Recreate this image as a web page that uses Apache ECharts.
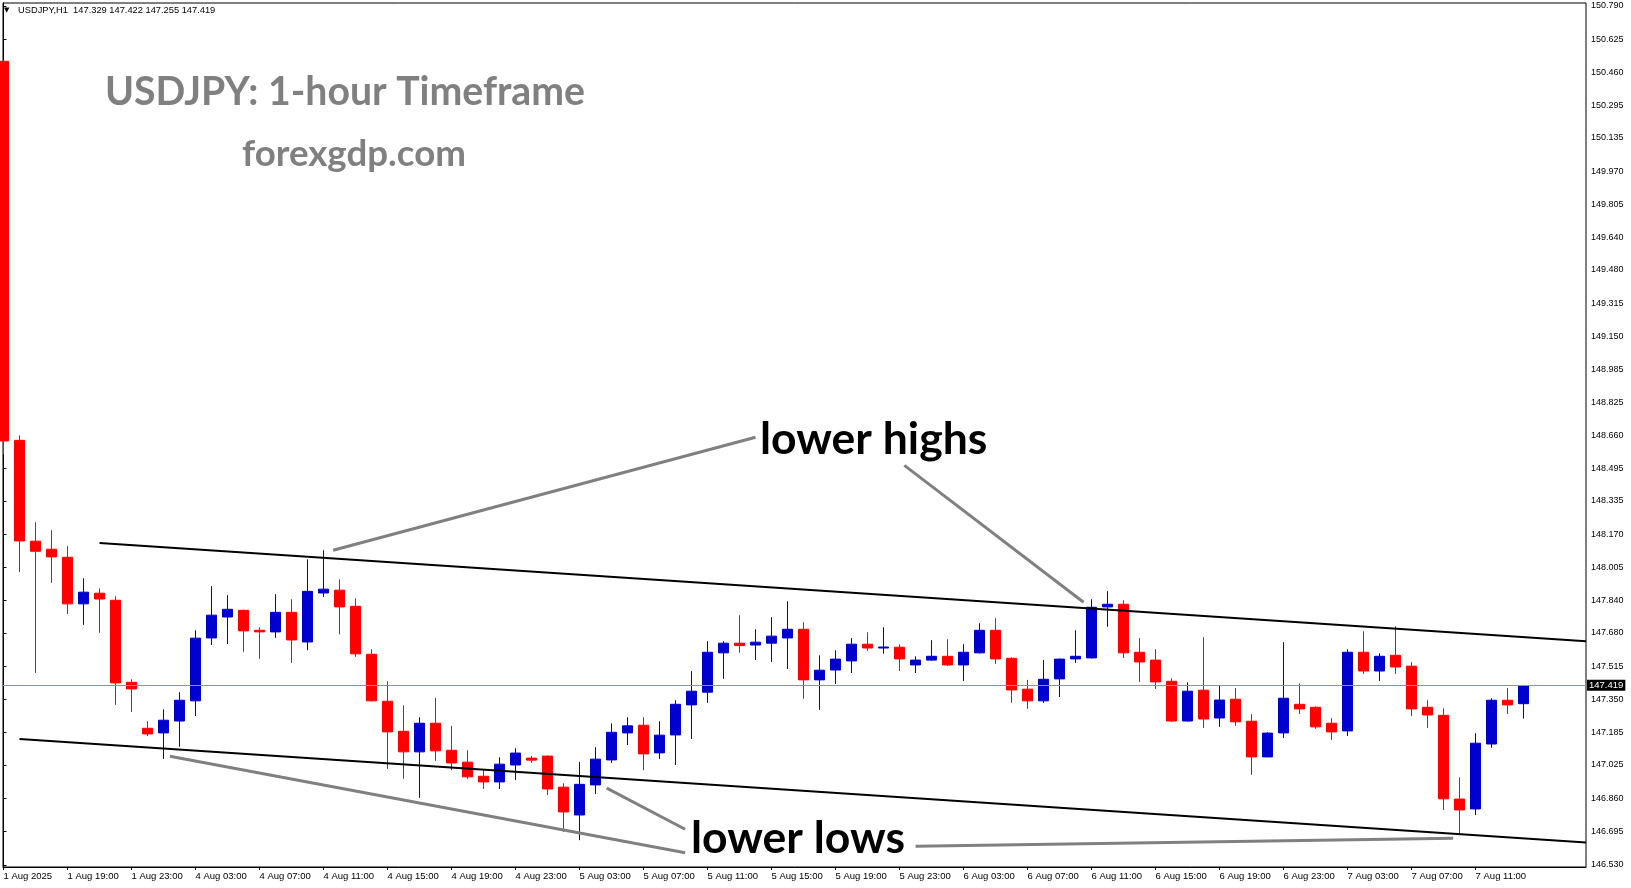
<!DOCTYPE html>
<html>
<head>
<meta charset="utf-8">
<script src="https://cdn.jsdelivr.net/npm/echarts@6/dist/echarts.min.js"></script>
<style>
html,body{margin:0;padding:0;background:#fff;}
#chart{width:1631px;height:888px;}
</style>
</head>
<body>
<div id="chart"></div>
<script>
// ---- bar times (H1) ----
const times = [
 '1 Aug 15:00','1 Aug 16:00','1 Aug 17:00','1 Aug 18:00','1 Aug 19:00','1 Aug 20:00','1 Aug 21:00','1 Aug 22:00','1 Aug 23:00',
 '4 Aug 00:00','4 Aug 01:00','4 Aug 02:00','4 Aug 03:00','4 Aug 04:00','4 Aug 05:00','4 Aug 06:00','4 Aug 07:00','4 Aug 08:00',
 '4 Aug 09:00','4 Aug 10:00','4 Aug 11:00','4 Aug 12:00','4 Aug 13:00','4 Aug 14:00','4 Aug 15:00','4 Aug 16:00','4 Aug 17:00',
 '4 Aug 18:00','4 Aug 19:00','4 Aug 20:00','4 Aug 21:00','4 Aug 22:00','4 Aug 23:00',
 '5 Aug 00:00','5 Aug 01:00','5 Aug 02:00','5 Aug 03:00','5 Aug 04:00','5 Aug 05:00','5 Aug 06:00','5 Aug 07:00','5 Aug 08:00',
 '5 Aug 09:00','5 Aug 10:00','5 Aug 11:00','5 Aug 12:00','5 Aug 13:00','5 Aug 14:00','5 Aug 15:00','5 Aug 16:00','5 Aug 17:00',
 '5 Aug 18:00','5 Aug 19:00','5 Aug 20:00','5 Aug 21:00','5 Aug 22:00','5 Aug 23:00',
 '6 Aug 00:00','6 Aug 01:00','6 Aug 02:00','6 Aug 03:00','6 Aug 04:00','6 Aug 05:00','6 Aug 06:00','6 Aug 07:00','6 Aug 08:00',
 '6 Aug 09:00','6 Aug 10:00','6 Aug 11:00','6 Aug 12:00','6 Aug 13:00','6 Aug 14:00','6 Aug 15:00','6 Aug 16:00','6 Aug 17:00',
 '6 Aug 18:00','6 Aug 19:00','6 Aug 20:00','6 Aug 21:00','6 Aug 22:00','6 Aug 23:00',
 '7 Aug 00:00','7 Aug 01:00','7 Aug 02:00','7 Aug 03:00','7 Aug 04:00','7 Aug 05:00','7 Aug 06:00','7 Aug 07:00','7 Aug 08:00',
 '7 Aug 09:00','7 Aug 10:00','7 Aug 11:00','7 Aug 12:00','7 Aug 13:00','7 Aug 14:00'
];

// ---- OHLC ----
const openP = [
 150.515,148.635,148.135,148.095,148.055,147.824,147.877,147.842,147.435,
 147.207,147.184,147.243,147.343,147.655,147.759,147.792,147.693,147.685,147.782,147.635,147.878,147.892,147.812,147.574,
 147.341,147.192,147.090,147.232,147.098,147.039,146.969,146.941,147.025,
 147.059,147.069,146.915,146.777,146.926,147.050,147.184,147.222,147.085,147.174,147.323,147.386,147.581,147.629,147.620,
 147.629,147.655,147.698,147.447,147.496,147.541,147.624,147.605,147.609,
 147.521,147.545,147.564,147.521,147.581,147.693,147.554,147.401,147.343,147.452,147.551,147.556,147.809,147.822,147.584,
 147.545,147.440,147.243,147.396,147.258,147.351,147.242,147.065,147.184,
 147.326,147.311,147.232,147.194,147.584,147.491,147.569,147.515,147.311,147.271,146.856,146.807,147.129,147.346,147.329
];
const highP = [
 150.520,148.660,148.229,148.189,148.110,147.951,147.901,147.862,147.450,
 147.242,147.301,147.386,147.693,147.912,147.867,147.795,147.708,147.872,147.847,148.045,148.090,147.946,147.852,147.599,
 147.440,147.321,147.262,147.358,147.219,147.098,146.999,147.063,147.108,
 147.069,147.072,146.934,147.040,147.113,147.231,147.262,147.262,147.242,147.346,147.490,147.639,147.639,147.768,147.698,
 147.758,147.837,147.733,147.569,147.594,147.654,147.683,147.708,147.624,
 147.564,147.644,147.649,147.624,147.728,147.753,147.559,147.447,147.545,147.553,147.693,147.847,147.887,147.842,147.654,
 147.599,147.455,147.435,147.659,147.421,147.406,147.277,147.187,147.634,
 147.430,147.316,147.257,147.599,147.688,147.579,147.713,147.535,147.346,147.306,146.964,147.183,147.356,147.406,147.422
];
const lowP = [
 148.565,147.982,147.481,147.928,147.774,147.720,147.680,147.323,147.288,
 147.169,147.055,147.115,147.268,147.620,147.625,147.586,147.551,147.655,147.531,147.594,147.858,147.673,147.561,147.340,
 147.005,146.956,146.862,147.045,146.999,146.956,146.906,146.906,146.951,
 147.035,146.876,146.693,146.652,146.881,147.035,147.124,146.999,147.055,147.025,147.154,147.333,147.452,147.581,147.546,
 147.536,147.501,147.353,147.298,147.427,147.481,147.591,147.576,147.491,
 147.481,147.541,147.516,147.442,147.578,147.526,147.333,147.303,147.333,147.362,147.531,147.553,147.710,147.556,147.437,
 147.402,147.239,147.240,147.209,147.214,147.219,146.976,147.063,147.159,
 147.278,147.204,147.149,147.169,147.477,147.442,147.477,147.268,147.209,146.802,146.683,146.777,147.110,147.278,147.255
];
const closeP = [
 148.632,148.136,148.085,148.057,147.824,147.882,147.848,147.432,147.402,
 147.179,147.247,147.346,147.654,147.768,147.797,147.690,147.685,147.782,147.645,147.886,147.897,147.809,147.576,147.343,
 147.189,147.090,147.232,147.095,147.035,146.966,146.941,147.029,147.084,
 147.049,146.906,146.792,146.929,147.054,147.187,147.219,147.080,147.173,147.326,147.391,147.584,147.629,147.617,147.634,
 147.664,147.698,147.447,147.495,147.550,147.624,147.605,147.610,147.551,
 147.545,147.564,147.521,147.584,147.693,147.551,147.397,147.343,147.450,147.550,147.564,147.807,147.822,147.581,147.536,
 147.437,147.243,147.391,147.253,147.347,147.239,147.065,147.183,147.356,
 147.303,147.214,147.189,147.584,147.491,147.564,147.511,147.303,147.273,146.857,146.802,147.133,147.346,147.323,147.419
];

// ---- axis ticks ----
const xTickIdx = [0,4,8,12,16,20,24,28,32,36,40,44,48,52,56,60,64,68,72,76,80,84,88,92];
const xTickLabels = ['1 Aug 2025','1 Aug 19:00','1 Aug 23:00','4 Aug 03:00','4 Aug 07:00','4 Aug 11:00','4 Aug 15:00',
 '4 Aug 19:00','4 Aug 23:00','5 Aug 03:00','5 Aug 07:00','5 Aug 11:00','5 Aug 15:00','5 Aug 19:00','5 Aug 23:00',
 '6 Aug 03:00','6 Aug 07:00','6 Aug 11:00','6 Aug 15:00','6 Aug 19:00','6 Aug 23:00','7 Aug 03:00','7 Aug 07:00','7 Aug 11:00'];
const yTickLabels = ['146.530','146.695','146.860','147.025','147.185','147.350','147.515','147.680','147.840',
 '148.005','148.170','148.335','148.495','148.660','148.825','148.985','149.150','149.315','149.480','149.640',
 '149.805','149.970','150.135','150.295','150.460','150.625','150.790'];

// ---- drawn trend lines: [bar index, price] ----
const upperChannel = [[6, 148.126], [98.9, 147.639]];
const lowerChannel = [[1, 147.154], [98.9, 146.641]];
const arrowHigh1 = [[20.6, 148.090], [47.0, 148.650]];
const arrowHigh2 = [[56.3, 148.511], [67.5, 147.832]];
const arrowLow1 = [[10.4, 147.068], [42.6, 146.590]];
const arrowLow2 = [[37.7, 146.910], [42.6, 146.706]];
const arrowLow3 = [[57.0, 146.622], [90.6, 146.662]];

const symbolName = 'USDJPY,H1';
const titleText = 'USDJPY: 1-hour Timeframe';
const siteText = 'forexgdp.com';

const candles = times.map((t, i) => [i, openP[i], closeP[i], lowP[i], highP[i]]);
const last = times.length - 1;
const fmt = v => Number(v).toFixed(3);

function seg(name, data, color, width) {
  return {
    name: name, type: 'line', data: data, symbol: 'none', silent: true, z: 5,
    lineStyle: { color: color, width: width }, animation: false
  };
}

const chart = echarts.init(document.getElementById('chart'));
chart.setOption({
  animation: false,
  backgroundColor: '#ffffff',
  grid: { left: 3, right: 45, top: 3, bottom: 21, show: true, borderColor: '#000', borderWidth: 1, backgroundColor: '#fff' },
  xAxis: {
    type: 'value', min: -0.03, max: 98.9,
    splitLine: { show: false },
    axisLine: { show: true, lineStyle: { color: '#000', width: 1 } },
    axisTick: { show: true, customValues: xTickIdx, length: 3, lineStyle: { color: '#000' } },
    axisLabel: {
      customValues: xTickIdx, align: 'left', margin: 4, fontSize: 9.5, color: '#000',
      fontFamily: '"Liberation Sans", Arial, sans-serif',
      formatter: v => xTickLabels[xTickIdx.indexOf(Math.round(v))] || ''
    }
  },
  yAxis: {
    type: 'value', position: 'right', min: 146.519, max: 150.804, scale: true,
    splitLine: { show: false },
    axisLine: { show: true, lineStyle: { color: '#000', width: 1 } },
    axisTick: { show: true, customValues: yTickLabels.map(Number), length: 3, lineStyle: { color: '#000' } },
    axisLabel: {
      customValues: yTickLabels.map(Number), margin: 5, fontSize: 9, color: '#000',
      fontFamily: '"Liberation Sans", Arial, sans-serif',
      formatter: v => fmt(v)
    }
  },
  series: [
    {
      name: 'USDJPY', type: 'candlestick', data: candles,
      encode: { x: 0, y: [1, 2, 3, 4] },
      barWidth: 10, z: 3,
      itemStyle: { color: '#0000CC', color0: '#FF0000', borderColor: '#0000CC', borderColor0: '#FF0000', borderWidth: 1 },
      markLine: {
        symbol: 'none', silent: true, animation: false,
        lineStyle: { color: '#8795a4', width: 1, type: 'solid' },
        label: {
          show: true, position: 'end', distance: 1,
          formatter: () => fmt(closeP[last]),
          backgroundColor: '#000', color: '#fff', padding: [1, 2, 0, 2],
          fontSize: 9.5, fontFamily: '"Liberation Sans", Arial, sans-serif'
        },
        data: [{ yAxis: closeP[last] }]
      }
    },
    seg('upper channel', upperChannel, '#000', 2),
    seg('lower channel', lowerChannel, '#000', 2),
    seg('lower highs 1', arrowHigh1, '#808080', 3),
    seg('lower highs 2', arrowHigh2, '#808080', 3),
    seg('lower lows 1', arrowLow1, '#808080', 3),
    seg('lower lows 2', arrowLow2, '#808080', 3),
    seg('lower lows 3', arrowLow3, '#808080', 3)
  ],
  graphic: [
    { type: 'text', x: 4, y: 10, silent: true, style: { text: '\u25BC', font: '7px "DejaVu Sans"', fill: '#000', verticalAlign: 'middle' } },
    { type: 'text', x: 18, y: 10, silent: true, style: {
      text: symbolName + '  ' + [openP[last], highP[last], lowP[last], closeP[last]].map(fmt).join(' '),
      font: '9.3px "Liberation Sans", Arial', fill: '#000', verticalAlign: 'middle' } },
    { type: 'text', x: 105, y: 92, silent: true, style: { text: titleText, font: 'bold 39.2px Lato', fill: '#808080', verticalAlign: 'middle' } },
    { type: 'text', x: 242, y: 154, silent: true, style: { text: siteText, font: 'bold 36.7px Lato', fill: '#808080', verticalAlign: 'middle' } },
    { type: 'text', x: 760, y: 440, silent: true, style: { text: 'lower highs', font: 'bold 44.5px Lato', fill: '#000', verticalAlign: 'middle' } },
    { type: 'text', x: 691, y: 839, silent: true, style: { text: 'lower lows', font: 'bold 44.5px Lato', fill: '#000', verticalAlign: 'middle' } }
  ]
});
</script>
</body>
</html>
